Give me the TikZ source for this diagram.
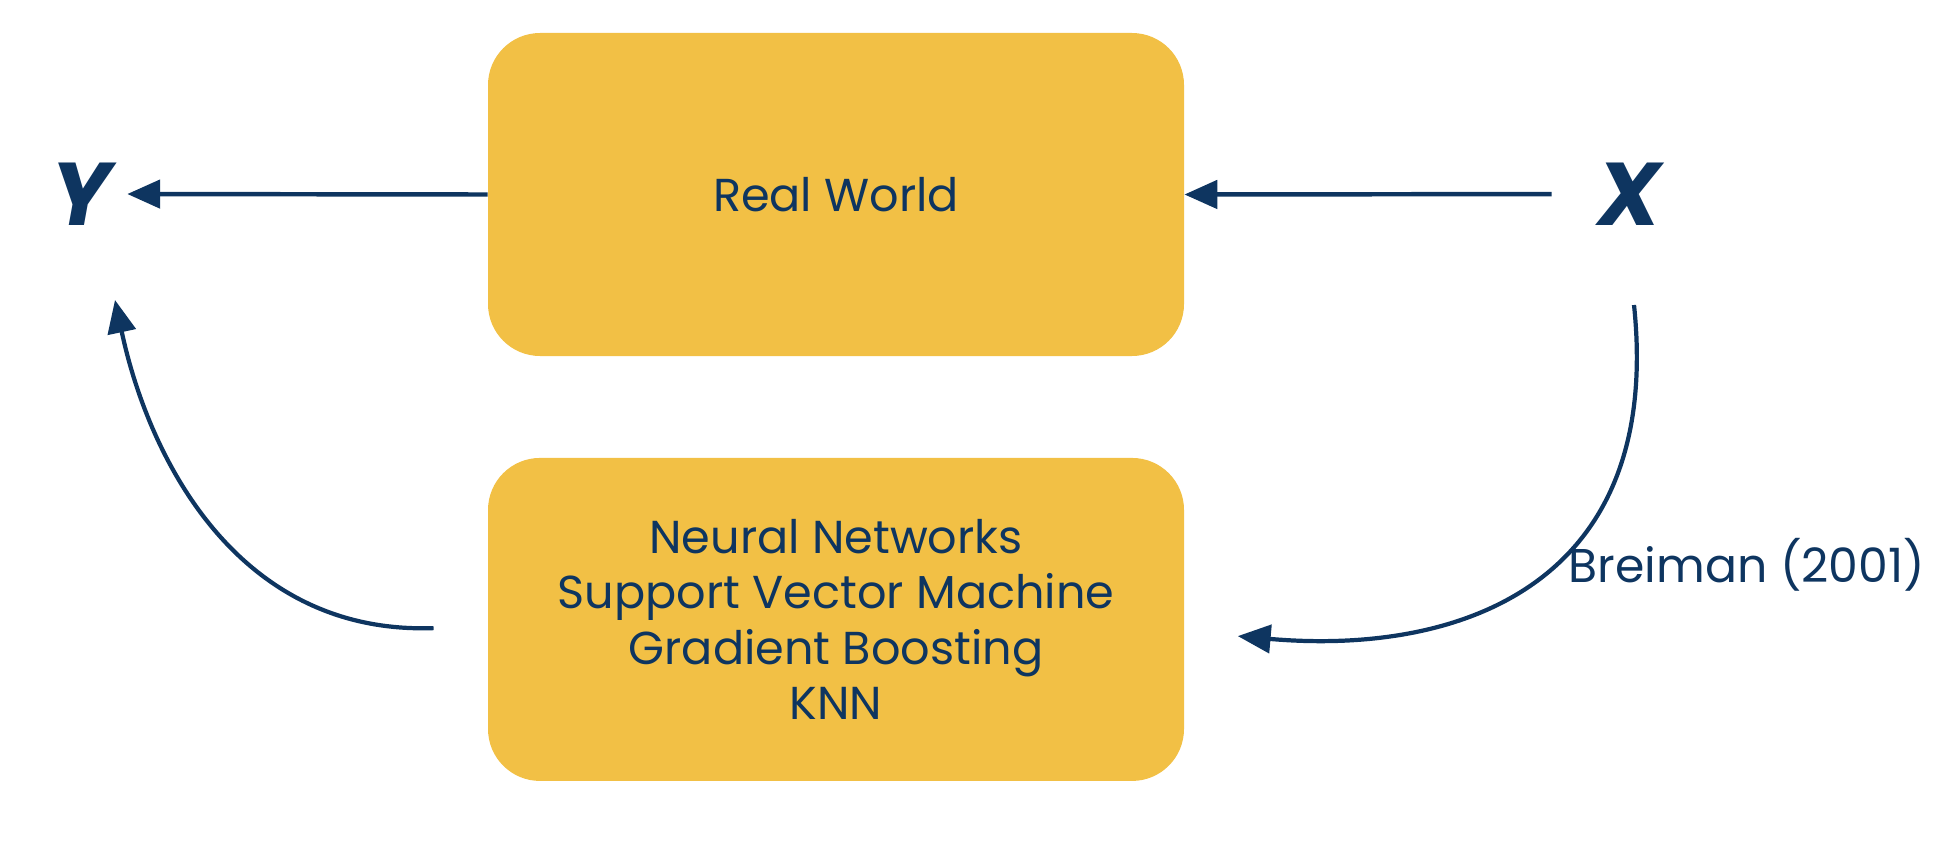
\documentclass[tikz,border=0pt]{standalone}
\usepackage{fontspec}
\setmainfont{Poppins}
\usetikzlibrary{arrows.meta,positioning}
\definecolor{rwyellow}{RGB}{242,192,69}
\definecolor{rwnavy}{RGB}{14,53,96}

\begin{document}
\begin{tikzpicture}[x=1.5cm, y=1.5cm,
  box/.style={fill=rwyellow, rounded corners=0.78cm, minimum width=10.44cm,
    minimum height=4.845cm, inner sep=0pt, align=center, text=rwnavy,
    font=\fontsize{19.7}{23.5}\selectfont},
  var/.style={text=rwnavy, inner sep=0pt, font=\fontsize{38}{40}\selectfont\bfseries\itshape},
  note/.style={text=rwnavy, inner sep=0pt, font=\fontsize{20.2}{24}\selectfont},
  link/.style={-{Triangle[length=14pt,width=12pt]}, rwnavy, line width=1.9pt},
  curvearrow/.style={-{Triangle[length=14pt,width=12pt]}, rwnavy, line width=1.8pt}]
\useasboundingbox (0,0) rectangle (19.36,8.44);
% --- Boxes ---
\node[box] (real) at (8.36,6.495) {Real World};
\node[box, below=1.515cm of real] (models)
  {Neural Networks\\Support Vector Machine\\Gradient Boosting\\KNN};
% --- Variables ---
\node[var] (Y) at (0.81,6.50) {Y};
\node[var] (X) at (16.29,6.50) {X};
\coordinate (yfoot) at (1.15,5.44);
\coordinate (xfoot) at (16.34,5.39);
% Straight arrows
\draw[link, shorten >=0.24cm] (real.west) -- (Y.east);
\draw[link, shorten <=0.675cm] (X.west) -- (real.east);
% Curved arrows
\draw[curvearrow] ([xshift=-0.81cm, yshift=-0.13cm]models.west)
  to[out=182, in=-78, out looseness=1.1, in looseness=0.9] (yfoot);
\draw[curvearrow] (xfoot)
  to[out=-84, in=-5, out looseness=1.4, in looseness=1.1]
  ([xshift=0.8cm, yshift=-0.25cm]models.east);
\node[note] (breiman) at (17.47,2.79) {Breiman (2001)};
\end{tikzpicture}
\end{document}
